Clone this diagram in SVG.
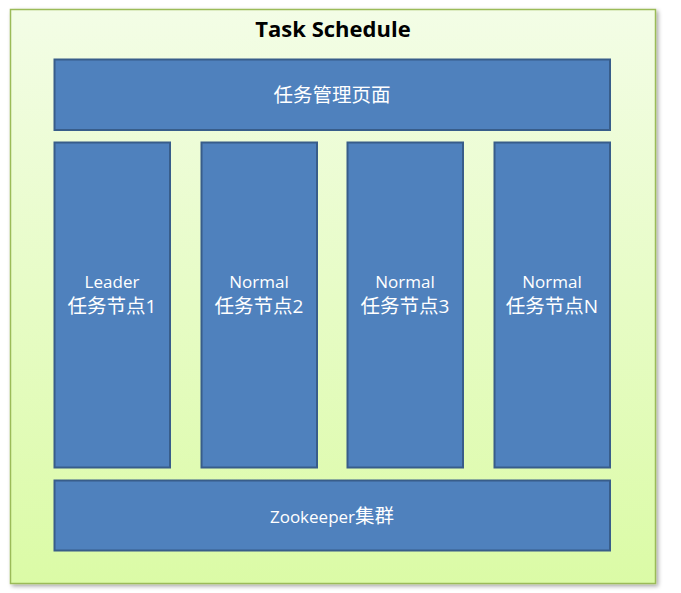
<svg xmlns="http://www.w3.org/2000/svg" width="681" height="593" viewBox="0 0 681 593">
<defs>
<linearGradient id="bg" x1="0" y1="0" x2="0" y2="1">
<stop offset="0" stop-color="#F3FDE6"/>
<stop offset="1" stop-color="#DBFBA6"/>
</linearGradient>
<filter id="sh" x="-5%" y="-5%" width="110%" height="110%">
<feGaussianBlur in="SourceAlpha" stdDeviation="2"/>
<feOffset dx="2" dy="2"/>
<feComponentTransfer><feFuncA type="linear" slope="0.35"/></feComponentTransfer>
<feMerge><feMergeNode/><feMergeNode in="SourceGraphic"/></feMerge>
</filter>
</defs>
<style>
.box{fill:#4F81BD;stroke:#385D8A;stroke-width:2}
.lbl{fill:#FFFFFF;font-family:"Open Sans","Noto Sans CJK SC",sans-serif;font-size:17px;text-anchor:middle}
.big{font-size:19px}
.cjk{font-size:19.5px}
.title{fill:#000;font-family:"Open Sans","Liberation Sans",sans-serif;font-weight:bold;font-size:22px;text-anchor:middle}
</style>
<rect x="10.5" y="9.5" width="645" height="574" fill="url(#bg)" stroke="#9BBB59" stroke-width="1.5" filter="url(#sh)"/>
<text class="title" x="333" y="37">Task Schedule</text>
<g id="page">
<rect class="box" x="54.5" y="59.5" width="555.5" height="70.5"/>
<text class="lbl" x="332" y="102"><tspan class="cjk">任务管理页面</tspan></text>
</g>
<g id="node1">
<rect class="box" x="54.5" y="142.5" width="115.5" height="325"/>
<text class="lbl" x="112" y="288">Leader</text>
<text class="lbl big" x="112" y="313"><tspan class="cjk">任务节点</tspan>1</text>
</g>
<g id="node2">
<rect class="box" x="201.5" y="142.5" width="115.5" height="325"/>
<text class="lbl" x="259" y="288">Normal</text>
<text class="lbl big" x="259" y="313"><tspan class="cjk">任务节点</tspan>2</text>
</g>
<g id="node3">
<rect class="box" x="347.5" y="142.5" width="115.5" height="325"/>
<text class="lbl" x="405" y="288">Normal</text>
<text class="lbl big" x="405" y="313"><tspan class="cjk">任务节点</tspan>3</text>
</g>
<g id="nodeN">
<rect class="box" x="494.5" y="142.5" width="115.5" height="325"/>
<text class="lbl" x="552" y="288">Normal</text>
<text class="lbl big" x="552" y="313"><tspan class="cjk">任务节点</tspan>N</text>
</g>
<g id="zk">
<rect class="box" x="54.5" y="480.5" width="555.5" height="70"/>
<text class="lbl" x="332" y="523">Zookeeper<tspan class="cjk">集群</tspan></text>
</g>
<g id="connectors"></g>
</svg>
